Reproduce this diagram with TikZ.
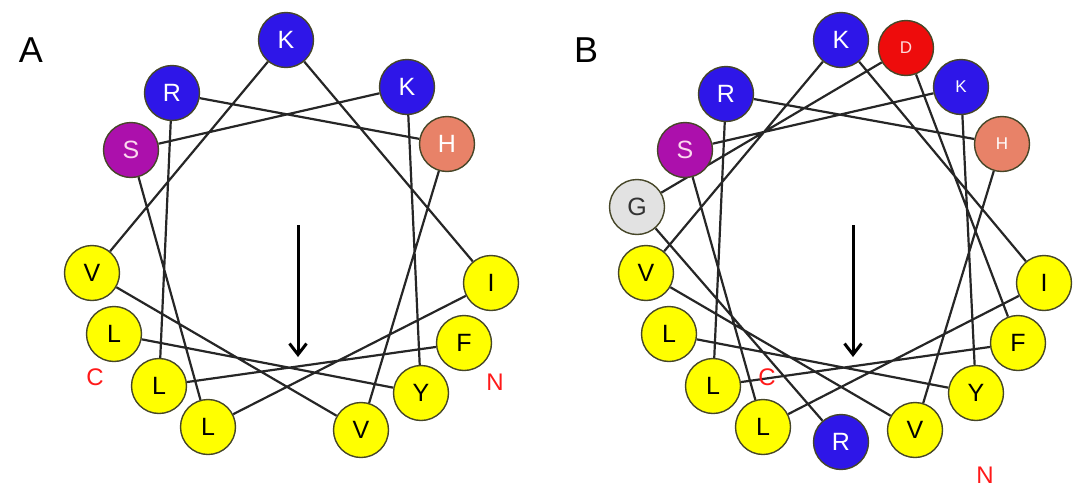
\documentclass[tikz,border=0pt]{standalone}
\usepackage{fontspec}
\setmainfont{Liberation Sans}
\usetikzlibrary{arrows.meta}
\pgfdeclarelayer{bg}
\pgfsetlayers{bg,main}
\definecolor{aablue}{RGB}{46,22,232}
\definecolor{aamag}{RGB}{172,16,172}
\definecolor{aasalm}{RGB}{232,130,104}
\definecolor{aared}{RGB}{238,12,12}
\definecolor{aagray}{RGB}{226,226,226}
\definecolor{aayel}{RGB}{255,255,0}
\definecolor{aaedge}{RGB}{70,70,40}
\tikzset{
  res/.style={circle,minimum size=55pt,inner sep=0pt,draw=aaedge,line width=1.4pt,font=\fontsize{25}{25}\selectfont},
  hydres/.style={res,fill=aayel,text=black},
  basres/.style={res,fill=aablue,text=white},
  serres/.style={res,fill=aamag,text=white!85!magenta},
  hisres/.style={res,fill=aasalm,text=white},
  aspres/.style={res,fill=aared,text=white!85!red},
  glyres/.style={res,fill=aagray,text=black!80},
  smalltxt/.style={font=\fontsize{17}{17}\selectfont},
  link/.style={draw=black!85,line width=2.2pt},
  termlab/.style={text=red!90!white,font=\fontsize{24}{24}\selectfont},
  panellab/.style={font=\fontsize{36}{36}\selectfont},
  moment/.style={line width=3pt,-{Straight Barb[length=11pt,width=17pt,line width=3pt]}}
}
\begin{document}
\begin{tikzpicture}[x=1pt,y=-1pt]
\useasboundingbox (0,0) rectangle (1087,498);
% Panel A
\node[panellab] (labA) at (31,50) {A};
\node[basres] (KA1) at (286,40) {K};
\node[basres] (RA) at (172,93) {R};
\node[basres] (KA2) at (407,87) {K};
\node[serres] (SA) at (131,150) {S};
\node[hisres] (HA) at (447,144) {H};
\node[hydres] (VA1) at (92,273) {V};
\node[hydres] (IA) at (491,283) {I};
\node[hydres] (LA1) at (114,334) {L};
\node[hydres] (FA) at (464,343) {F};
\node[hydres] (LA2) at (159,386) {L};
\node[hydres] (YA) at (421,393) {Y};
\node[hydres] (LA3) at (208,427) {L};
\node[hydres] (VA2) at (361,430) {V};
\node[termlab] (CA) at (95,377) {C};
\node[termlab] (NA) at (495,382) {N};
\coordinate (atA) at (298,225);
\coordinate (ahA) at (298,357);
\draw[moment] (atA) -- (ahA);
\begin{pgfonlayer}{bg}
\draw[link] (FA) -- (LA2) -- (RA) -- (HA) -- (VA2) -- (VA1) -- (KA1) -- (IA) -- (LA3) -- (SA) -- (KA2) -- (YA) -- (LA1);
\end{pgfonlayer}
% Panel B
\node[panellab] (labB) at (586,50) {B};
\node[basres] (KB1) at (841,40) {K};
\node[aspres,smalltxt] (DB) at (906,48) {D};
\node[basres] (RB1) at (726,94) {R};
\node[basres,smalltxt] (KB2) at (961,87) {K};
\node[serres] (SB) at (685,150) {S};
\node[hisres,smalltxt] (HB) at (1002,144) {H};
\node[glyres] (GB) at (637,207) {G};
\node[hydres] (VB1) at (646,273) {V};
\node[hydres] (IB) at (1044,283) {I};
\node[hydres] (LB1) at (669,334) {L};
\node[hydres] (FB) at (1018,343) {F};
\node[hydres] (LB2) at (713,386) {L};
\node[hydres] (YB) at (976,393) {Y};
\node[hydres] (LB3) at (763,427) {L};
\node[basres] (RB2) at (841,442) {R};
\node[hydres] (VB2) at (915,430) {V};
\node[termlab] (CB) at (767,377) {C};
\node[termlab] (NB) at (985,475) {N};
\coordinate (atB) at (853,225);
\coordinate (ahB) at (853,357);
\draw[moment] (atB) -- (ahB);
\begin{pgfonlayer}{bg}
\draw[link] (RB2) -- (GB) -- (DB) -- (FB) -- (LB2) -- (RB1) -- (HB) -- (VB2) -- (VB1) -- (KB1) -- (IB) -- (LB3) -- (SB) -- (KB2) -- (YB) -- (LB1);
\end{pgfonlayer}
\end{tikzpicture}
\end{document}
